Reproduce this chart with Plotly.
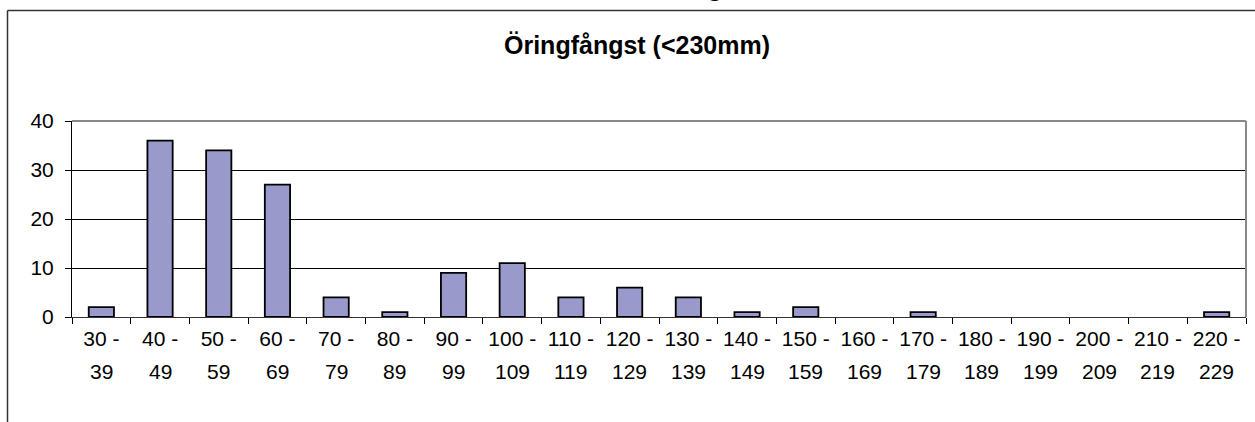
import plotly.graph_objects as go

# length classes (mm) and number of caught trout
CLASS_FROM = ["30", "40", "50", "60", "70", "80", "90", "100", "110", "120",
              "130", "140", "150", "160", "170", "180", "190", "200", "210", "220"]
CLASS_TO = ["39", "49", "59", "69", "79", "89", "99", "109", "119", "129",
            "139", "149", "159", "169", "179", "189", "199", "209", "219", "229"]
COUNTS = [2, 36, 34, 27, 4, 1, 9, 11, 4, 6, 4, 1, 2, 0, 1, 0, 0, 0, 0, 1]
Y_TICKS = [0, 10, 20, 30, 40]

TITLE = "Öringfångst (<230mm)"
FONT = "Arial, Liberation Sans, sans-serif"
BAR_COLOR = "#9999CC"

W, H = 1255, 422
# plot area in pixels
PX_L, PX_R, PX_T, PX_B = 72, 1246, 121, 317


def px_x(p):
    return p / W


def px_y(p):
    return 1 - p / H


cats = [f + " -" for f in CLASS_FROM]
# empty classes get no bar at all (Excel draws nothing for 0)
bar_y = [c if c else None for c in COUNTS]

fig = go.Figure()
fig.add_trace(go.Bar(
    x=cats, y=bar_y,
    marker=dict(color=BAR_COLOR, line=dict(color="black", width=1.8)),
    hoverinfo="x+y",
))

fig.update_layout(
    width=W, height=H,
    paper_bgcolor="white", plot_bgcolor="white",
    margin=dict(l=0, r=0, t=0, b=0, autoexpand=False),
    showlegend=False,
    bargap=0.57,
    font=dict(family=FONT, size=21, color="black"),
    xaxis=dict(
        domain=[px_x(PX_L), px_x(PX_R)],
        type="category",
        tickson="boundaries",
        ticks="outside", ticklen=6, tickcolor="black", tickwidth=1,
        showline=True, linecolor="#333333", linewidth=1,
        showgrid=False, zeroline=False,
        tickfont=dict(size=21),
        ticklabelstandoff=3,
        fixedrange=True,
    ),
    yaxis=dict(
        domain=[px_y(PX_B), px_y(PX_T)],
        range=[0, 40],
        tickvals=Y_TICKS,
        ticks="outside", ticklen=6, tickcolor="black", tickwidth=1,
        showline=True, linecolor="black", linewidth=1,
        showgrid=True, gridcolor="black", gridwidth=1,
        zeroline=False,
        tickfont=dict(size=21),
        ticklabelstandoff=7,
        fixedrange=True,
    ),
)

# gray plot-area border on top and right (Excel style)
fig.add_shape(type="line", xref="paper", yref="paper",
              x0=px_x(PX_L), x1=px_x(PX_R), y0=px_y(PX_T), y1=px_y(PX_T),
              line=dict(color="#888888", width=2), layer="above")
fig.add_shape(type="line", xref="paper", yref="paper",
              x0=px_x(PX_R), x1=px_x(PX_R), y0=px_y(PX_T), y1=px_y(PX_B),
              line=dict(color="#888888", width=2), layer="above")

# outer chart frame (continues past the picture on the right and bottom)
fig.add_shape(type="line", xref="paper", yref="paper",
              x0=px_x(7.5), x1=px_x(W + 5), y0=px_y(10.5), y1=px_y(10.5),
              line=dict(color="#333333", width=1.5))
fig.add_shape(type="line", xref="paper", yref="paper",
              x0=px_x(7.5), x1=px_x(7.5), y0=px_y(10.5), y1=px_y(H + 5),
              line=dict(color="#333333", width=1.5))

# title
fig.add_annotation(text="<b>" + TITLE + "</b>", xref="paper", yref="paper",
                   x=px_x(637), y=px_y(45), xanchor="center", yanchor="middle",
                   showarrow=False, font=dict(size=25, family=FONT))

# cut-off letter of a title above the picture
fig.add_annotation(text="<b>g</b>", xref="paper", yref="paper",
                   x=px_x(715), y=px_y(4), xanchor="center", yanchor="bottom",
                   showarrow=False, font=dict(size=26, family=FONT))

# second line of each class label
for c, t in zip(cats, CLASS_TO):
    fig.add_annotation(text=t, x=c, xref="x", yref="paper", y=px_y(371),
                       xanchor="center", yanchor="middle", showarrow=False,
                       font=dict(size=21, family=FONT))

fig.write_html("out.html", config={"displayModeBar": False},
               post_script="document.body.style.margin='0';")
